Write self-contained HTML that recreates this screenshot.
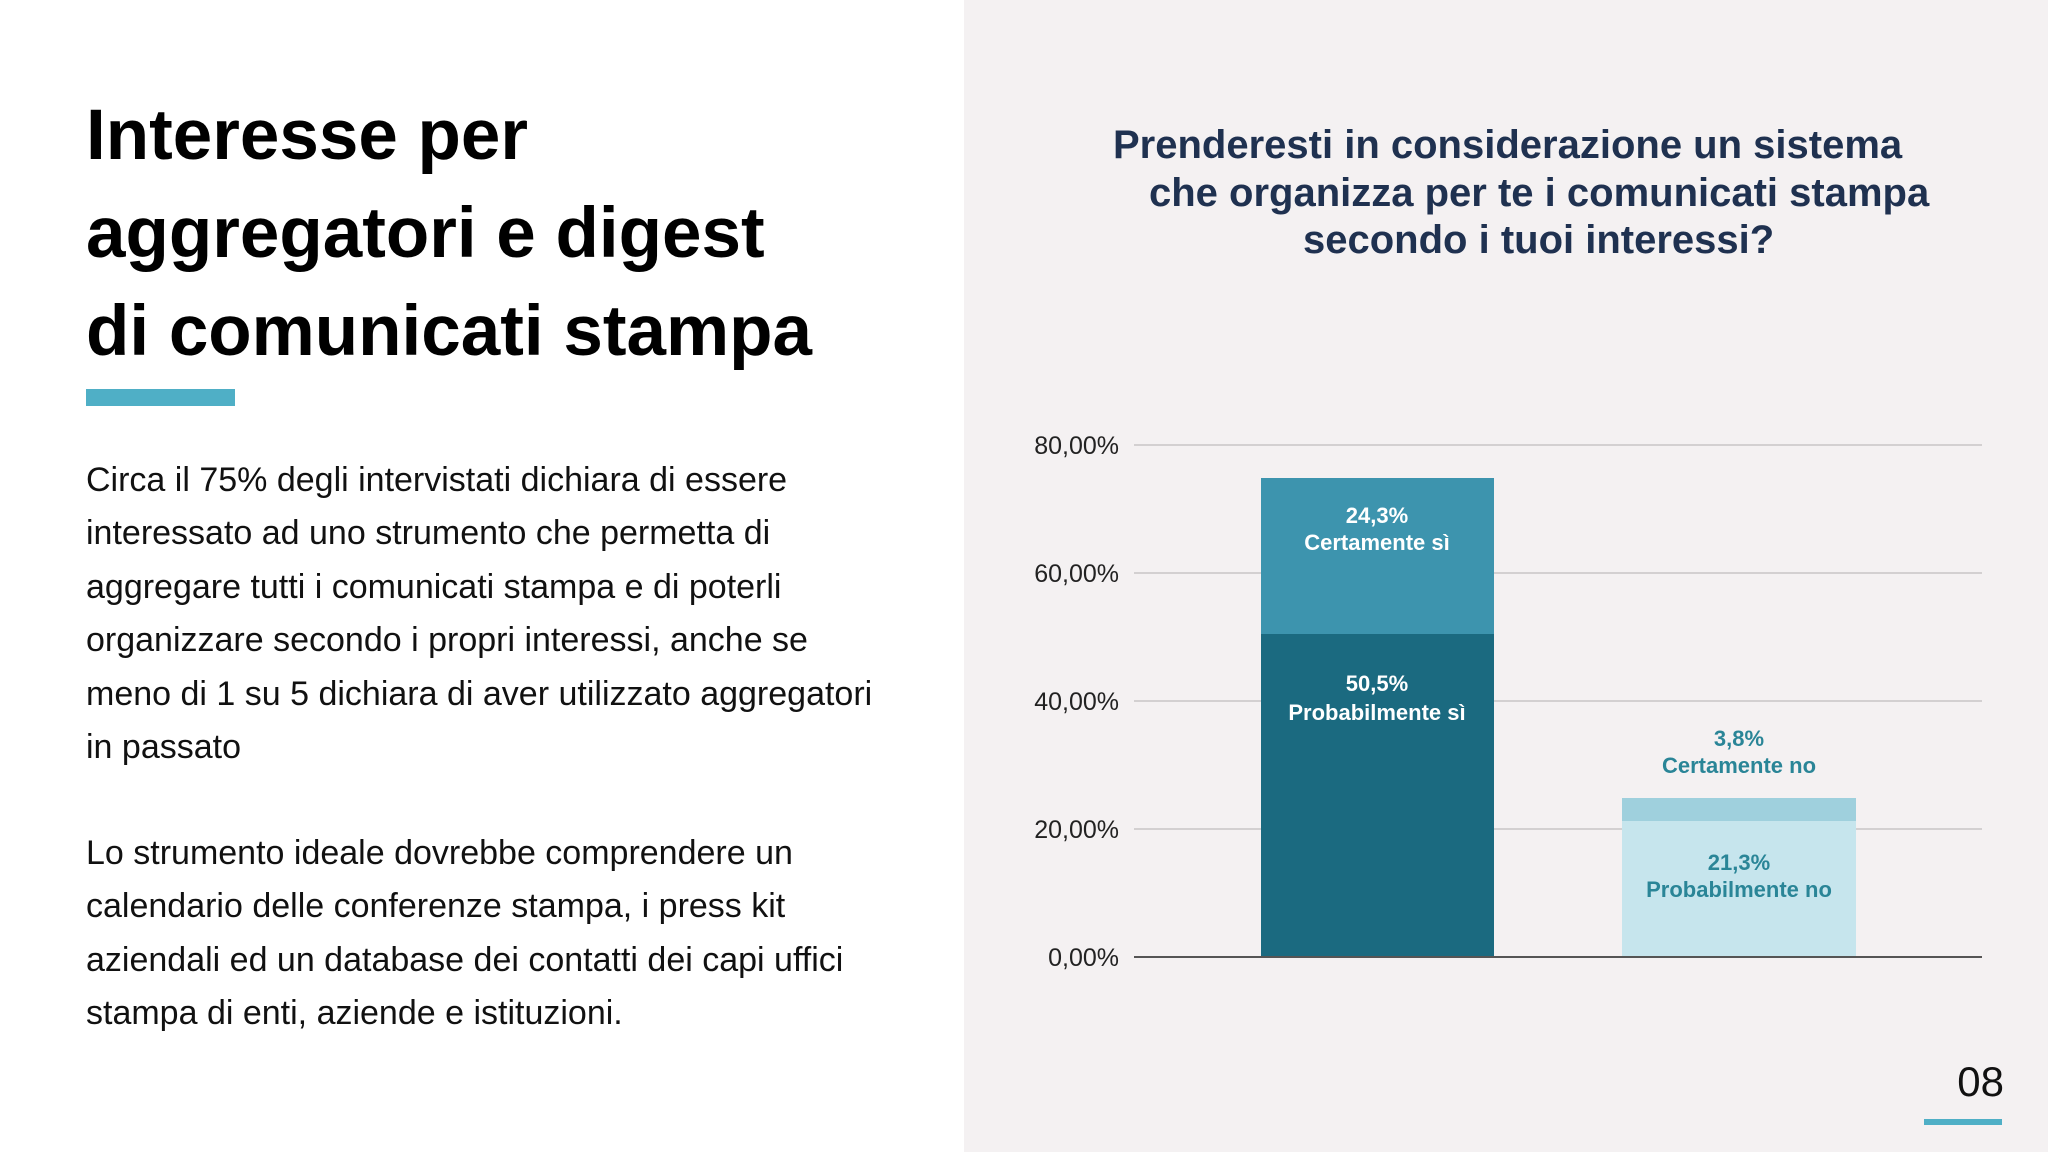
<!DOCTYPE html>
<html><head><meta charset="utf-8">
<style>
html,body{margin:0;padding:0}
body{width:2048px;height:1152px;position:relative;overflow:hidden;background:#fff;font-family:"Liberation Sans",Arial,sans-serif}
.right{position:absolute;left:964px;top:0;width:1084px;height:1152px;background:#f4f1f2}
.t{position:absolute;left:86px;font-weight:bold;font-size:71px;color:#000;white-space:nowrap;line-height:1}
.p{position:absolute;left:86px;font-size:34px;color:#111;white-space:nowrap;line-height:1}
.q{position:absolute;font-weight:bold;font-size:40px;color:#1f3150;white-space:nowrap;line-height:1}
</style></head><body>
<div class="right"></div>
<div class="t" style="top:100px">Interesse per</div>
<div class="t" style="top:198px">aggregatori e digest</div>
<div class="t" style="top:296px">di comunicati stampa</div>
<div style="position:absolute;left:86px;top:389px;width:149px;height:17px;background:#4fafc6"></div>

<div class="p" style="top:463px">Circa il 75% degli intervistati dichiara di essere</div>
<div class="p" style="top:516px">interessato ad uno strumento che permetta di</div>
<div class="p" style="top:570px">aggregare tutti i comunicati stampa e di poterli</div>
<div class="p" style="top:623px">organizzare secondo i propri interessi, anche se</div>
<div class="p" style="top:677px">meno di 1 su 5 dichiara di aver utilizzato aggregatori</div>
<div class="p" style="top:730px">in passato</div>
<div class="p" style="top:836px">Lo strumento ideale dovrebbe comprendere un</div>
<div class="p" style="top:889px">calendario delle conferenze stampa, i press kit</div>
<div class="p" style="top:943px">aziendali ed un database dei contatti dei capi uffici</div>
<div class="p" style="top:996px">stampa di enti, aziende e istituzioni.</div>

<div class="q" style="left:1113px;top:125px">Prenderesti in considerazione un sistema</div>
<div class="q" style="left:1149px;top:173px">che organizza per te i comunicati stampa</div>
<div class="q" style="left:1303px;top:220px">secondo i tuoi interessi?</div>

<svg width="2048" height="1152" style="position:absolute;left:0;top:0" xmlns="http://www.w3.org/2000/svg">
<g stroke="#d3d0d1" stroke-width="2">
<line x1="1134" y1="445" x2="1982" y2="445"/>
<line x1="1134" y1="573" x2="1982" y2="573"/>
<line x1="1134" y1="701" x2="1982" y2="701"/>
<line x1="1134" y1="829" x2="1982" y2="829"/>
</g>
<g font-family="Liberation Sans, Arial, sans-serif" font-size="25" fill="#222" text-anchor="end">
<text x="1119" y="454">80,00%</text>
<text x="1119" y="582">60,00%</text>
<text x="1119" y="710">40,00%</text>
<text x="1119" y="838">20,00%</text>
<text x="1119" y="966">0,00%</text>
</g>
<rect x="1261" y="478" width="233" height="157" fill="#3d94ae"/>
<rect x="1261" y="634" width="233" height="323" fill="#1b6a80"/>
<rect x="1622" y="798" width="234" height="24" fill="#9fd0dd"/>
<rect x="1622" y="821" width="234" height="136" fill="#c6e5ed"/>
<line x1="1134" y1="957" x2="1982" y2="957" stroke="#555" stroke-width="2"/>
<g font-family="Liberation Sans, Arial, sans-serif" font-size="22" font-weight="bold" text-anchor="middle">
<text x="1377" y="523" fill="#fff">24,3%</text>
<text x="1377" y="550" fill="#fff">Certamente sì</text>
<text x="1377" y="691" fill="#fff">50,5%</text>
<text x="1377" y="720" fill="#fff">Probabilmente sì</text>
<text x="1739" y="746" fill="#2a8597">3,8%</text>
<text x="1739" y="773" fill="#2a8597">Certamente no</text>
<text x="1739" y="870" fill="#2a8597">21,3%</text>
<text x="1739" y="897" fill="#2a8597">Probabilmente no</text>
</g>
<text x="2004" y="1096" font-family="Liberation Sans, Arial, sans-serif" font-size="42" fill="#111" text-anchor="end">08</text>
<rect x="1924" y="1119" width="78" height="6" fill="#4fafc6"/>
</svg>
</body></html>
